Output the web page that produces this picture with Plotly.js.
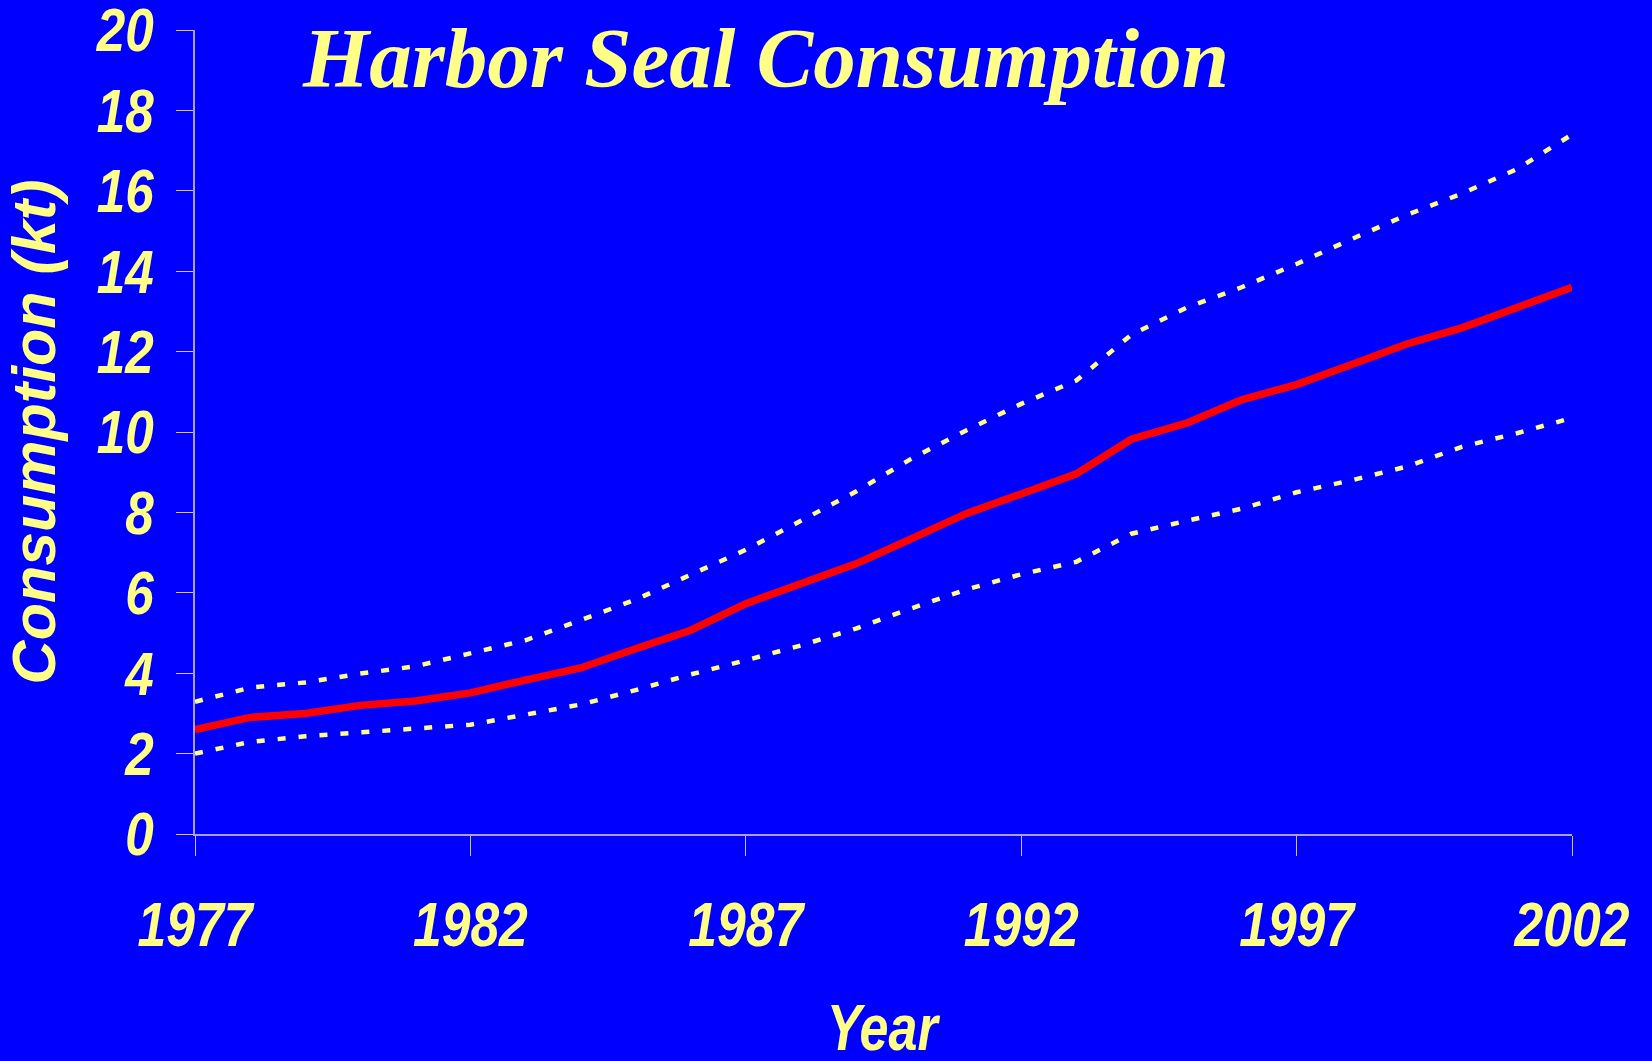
<!DOCTYPE html>
<html>
<head>
<meta charset="utf-8">
<script src="https://cdn.plot.ly/plotly-3.0.1.min.js"></script>
<style>
  html, body { margin: 0; padding: 0; background: #0000ff; }
  #chart { width: 1652px; height: 1061px; }
</style>
</head>
<body>
<div id="chart"></div>
<script>
const years = [1977,1978,1979,1980,1981,1982,1983,1984,1985,1986,1987,1988,1989,
               1990,1991,1992,1993,1994,1995,1996,1997,1998,1999,2000,2001,2002];
const consumption = [2.6,2.9,3.0,3.2,3.31,3.51,3.83,4.13,4.61,5.07,5.73,6.23,6.72,
                     7.34,7.97,8.46,8.96,9.82,10.22,10.8,11.18,11.68,12.19,12.59,13.1,13.6];
const upperBound = [3.29,3.64,3.77,3.99,4.17,4.49,4.82,5.32,5.83,6.45,7.07,7.79,8.52,
                    9.33,10.04,10.7,11.28,12.42,13.09,13.6,14.18,14.8,15.4,15.93,16.54,17.4];
const lowerBound = [2.0,2.29,2.43,2.53,2.63,2.72,2.97,3.22,3.58,3.97,4.32,4.69,5.11,
                    5.61,6.08,6.46,6.77,7.47,7.79,8.09,8.5,8.8,9.14,9.63,9.97,10.35];
const xTickVals = [1977,1982,1987,1992,1997,2002];
const yTickVals = [0,2,4,6,8,10,12,14,16,18,20];

const yellow = '#ffff88';
const sans = '"Liberation Sans", Arial, sans-serif';

const traces = [
  { x: years, y: upperBound, type: 'scatter', mode: 'lines',
    line: { color: yellow, width: 4.5, dash: '8px,13px' }, hoverinfo: 'skip' },
  { x: years, y: lowerBound, type: 'scatter', mode: 'lines',
    line: { color: yellow, width: 4.5, dash: '8px,13px' }, hoverinfo: 'skip' },
  { x: years, y: consumption, type: 'scatter', mode: 'lines',
    line: { color: '#ff0000', width: 7.5 }, hoverinfo: 'skip' }
];

const layout = {
  width: 1652, height: 1061,
  paper_bgcolor: '#0000ff', plot_bgcolor: '#0000ff',
  showlegend: false,
  margin: { l: 195, r: 80, t: 30, b: 227, pad: 0 },
  title: {
    text: 'Harbor Seal Consumption',
    font: { family: '"Liberation Serif", "Times New Roman", serif', size: 85, color: yellow, weight: 'bold', style: 'italic' },
    xref: 'container', x: 0.4637, xanchor: 'center',
    yref: 'container', y: 0.9464, yanchor: 'middle'
  },
  xaxis: {
    range: [1977, 2002], tickvals: xTickVals, ticktext: xTickVals.map(String),
    showgrid: false, zeroline: false,
    showline: true, linecolor: '#a8a0e0', linewidth: 2,
    ticks: 'outside', ticklen: 20, tickcolor: '#c8c0e8', tickwidth: 1,
    ticklabelstandoff: 14, ticklabeloverflow: 'allow',
    tickfont: { family: sans, size: 63, color: yellow, weight: 'bold', style: 'italic' },
    automargin: false, fixedrange: true
  },
  yaxis: {
    range: [0, 20], tickvals: yTickVals, ticktext: yTickVals.map(String),
    showgrid: false, zeroline: false,
    showline: true, linecolor: '#a8a0e0', linewidth: 2,
    ticks: 'outside', ticklen: 17, tickcolor: '#e0c0c8', tickwidth: 1,
    ticklabelstandoff: 10, ticklabeloverflow: 'allow',
    tickfont: { family: sans, size: 61, color: yellow, weight: 'bold', style: 'italic' },
    title: { text: 'Consumption (kt)', standoff: 15,
      font: { family: sans, size: 61, color: yellow, weight: 'bold', style: 'italic' } },
    automargin: false, fixedrange: true
  },
  annotations: [{
    text: 'Year', showarrow: false,
    xref: 'paper', x: 0.5, xanchor: 'center',
    yref: 'paper', y: -0.241, yanchor: 'middle',
    font: { family: sans, size: 65, color: yellow, weight: 'bold', style: 'italic' }
  }]
};

// Condense the tick labels and the x title horizontally (the original uses a narrow face)
function condense(gd) {
  const groups = [['.xtick text', 0.82], ['.ytick text', 0.84], ['.annotation-text', 0.8]];
  groups.forEach(([sel, sx]) => {
    gd.querySelectorAll(sel).forEach(t => {
      const X = parseFloat(t.getAttribute('x')) || 0;
      const tr = t.getAttribute('transform') || '';
      t.setAttribute('transform', tr + ' translate(' + X + ',0) scale(' + sx + ',1) translate(' + (-X) + ',0)');
    });
  });
}

Plotly.newPlot('chart', traces, layout, { displayModeBar: false, staticPlot: true })
  .then(condense);
</script>
</body>
</html>
